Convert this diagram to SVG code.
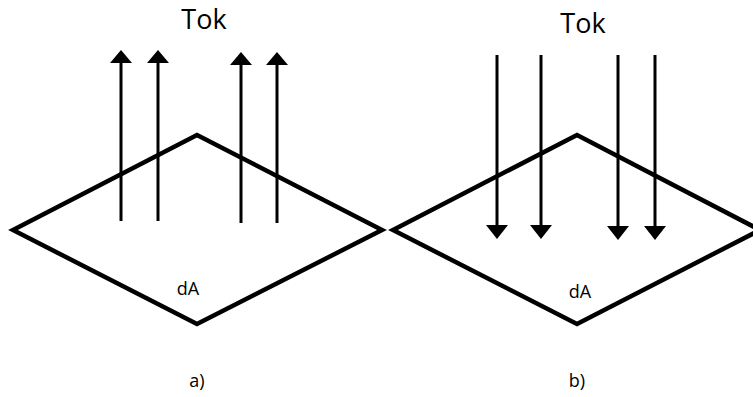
<svg xmlns="http://www.w3.org/2000/svg" width="753" height="397" viewBox="0 0 753 397">
<style>
.plane{fill:none;stroke:#000;stroke-width:4.5;stroke-linejoin:miter}
.arr{stroke:#000;stroke-width:3;fill:none}
.head{fill:#000}
text{font-family:"Open Sans","Liberation Sans",sans-serif;fill:#000;text-anchor:middle}
.big{font-size:27px}
.small{font-size:18px}
.lab{font-size:18px}
</style>
<rect width="753" height="397" fill="#fff"/>
<g id="plane-a"><polygon class="plane" points="13,230 197,135 382,230 197,324"/><text class="small" x="188" y="295">dA</text></g>
<g id="plane-b"><polygon class="plane" points="393,230 577,135 760,230 577,324"/><text class="small" x="580" y="298">dA</text></g>
<g id="label-tok-a"><text class="big" x="204" y="29">Tok</text></g>
<g id="label-tok-b"><text class="big" x="583" y="33">Tok</text></g>
<g id="label-a"><text class="lab" x="197" y="387">a)</text></g>
<g id="label-b"><text class="lab" x="577" y="387">b)</text></g>
<g id="connectors">
<line class="arr" x1="121" y1="221" x2="121" y2="60"/><polygon class="head" points="121,50 110,63 132,63"/>
<line class="arr" x1="158" y1="221" x2="158" y2="60"/><polygon class="head" points="158,50 147,63 169,63"/>
<line class="arr" x1="241" y1="223" x2="241" y2="62"/><polygon class="head" points="241,52 230,65 252,65"/>
<line class="arr" x1="277" y1="223" x2="277" y2="62"/><polygon class="head" points="277,52 266,65 288,65"/>
<line class="arr" x1="497" y1="55" x2="497" y2="230"/><polygon class="head" points="497,239 486,225 508,225"/>
<line class="arr" x1="541" y1="55" x2="541" y2="230"/><polygon class="head" points="541,239 530,225 552,225"/>
<line class="arr" x1="618" y1="55" x2="618" y2="230"/><polygon class="head" points="618,240 607,226 629,226"/>
<line class="arr" x1="655" y1="55" x2="655" y2="230"/><polygon class="head" points="655,240 644,226 666,226"/>
</g>
</svg>
